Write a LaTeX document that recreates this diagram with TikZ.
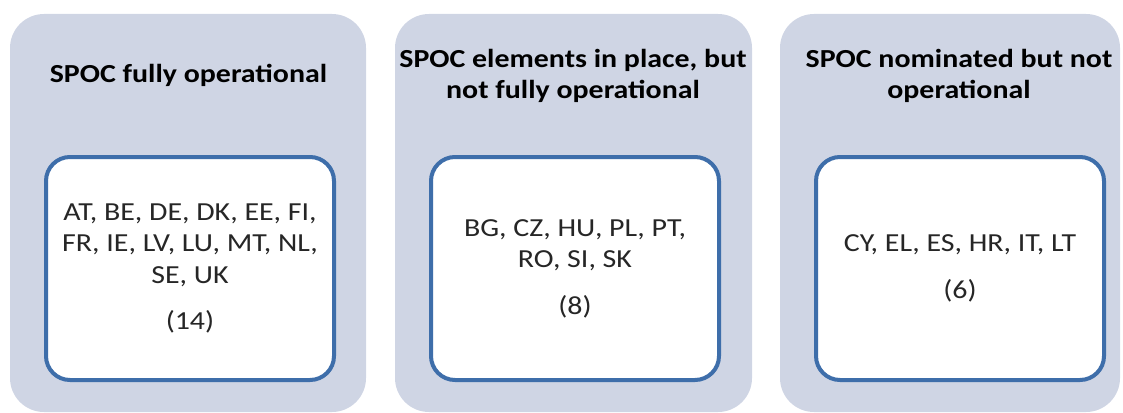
\documentclass[tikz,border=0pt]{standalone}
\usepackage{fontspec}
\setmainfont[FakeStretch=1.15]{Carlito}
\definecolor{panelfill}{RGB}{207,213,228}
\definecolor{boxblue}{RGB}{62,110,170}
\definecolor{bodytext}{RGB}{38,38,38}
\begin{document}
\begin{tikzpicture}[x=1pt,y=-1pt,thick,
    panel node/.style={rectangle,rounded corners=34pt,fill=panelfill,minimum height=398pt,inner sep=0pt},
    title node/.style={anchor=base,align=center,inner sep=0pt,font=\fontsize{26}{31}\selectfont\bfseries},
    list node/.style={rectangle,rounded corners=24pt,draw=boxblue,line width=4pt,fill=white,minimum width=288pt,minimum height=223pt,align=center,text=bodytext,font=\fontsize{26}{31.5}\selectfont}]
                \useasboundingbox (0,0) rectangle (1123,412);

                \node[panel node, minimum width=356pt] at (188, 213) (full) {};
                \node[panel node, minimum width=357pt] at (573.5, 213) (partial) {};
                \node[panel node, minimum width=340pt] at (950, 213) (nominated) {};

                \node[title node] at (188.5, 82) (full title) {SPOC fully operational};
                \node[title node] at (573, 98) (partial title) {SPOC elements in place, but\\not fully operational};
                \node[title node] at (959, 98) (nominated title) {SPOC nominated but not\\operational};

                \node[list node] at (190, 268.5) (full list) {AT, BE, DE, DK, EE, FI,\\FR, IE, LV, LU, MT, NL,\\SE, UK\\[15pt](14)};
                \node[list node] at (575, 268.5) (partial list) {BG, CZ, HU, PL, PT,\\RO, SI, SK\\[15pt](8)};
                \node[list node] at (960, 268.5) (nominated list) {CY, EL, ES, HR, IT, LT\\[15pt](6)};
            \end{tikzpicture}
\end{document}
